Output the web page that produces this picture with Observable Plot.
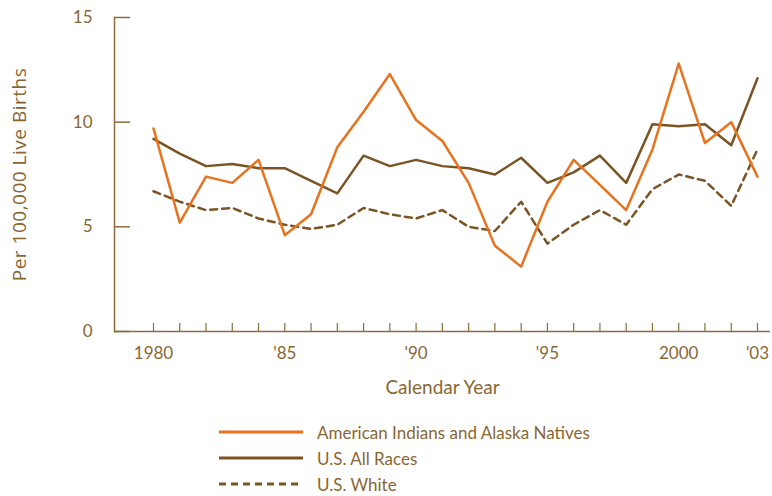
<!DOCTYPE html>
<html>
<head>
<meta charset="utf-8">
<script src="https://cdn.jsdelivr.net/npm/d3@7"></script>
<script src="https://cdn.jsdelivr.net/npm/@observablehq/plot@0.6"></script>
<style>
  html, body { margin: 0; padding: 0; background: #fff; }
  #chart { width: 772px; }
  .legend { margin-left: 219px; padding-top: 9px; font-family: Lato, sans-serif; font-size: 17px; color: #8a6632; }
  .legend .row { display: flex; align-items: center; height: 26px; }
  .legend svg { margin-right: 14px; }
</style>
</head>
<body>
<div id="chart"></div>
<script>
const years = [1980,1981,1982,1983,1984,1985,1986,1987,1988,1989,1990,1991,1992,1993,1994,1995,1996,1997,1998,1999,2000,2001,2002,2003];
const aian     = [9.7,5.2,7.4,7.1,8.2,4.6,5.6,8.8,10.5,12.3,10.1,9.1,7.1,4.1,3.1,6.2,8.2,7.0,5.8,8.7,12.8,9.0,10.0,7.4];
const allRaces = [9.2,8.5,7.9,8.0,7.8,7.8,7.2,6.6,8.4,7.9,8.2,7.9,7.8,7.5,8.3,7.1,7.6,8.4,7.1,9.9,9.8,9.9,8.9,12.1];
const white    = [6.7,6.2,5.8,5.9,5.4,5.1,4.9,5.1,5.9,5.6,5.4,5.8,5.0,4.8,6.2,4.2,5.1,5.8,5.1,6.8,7.5,7.2,6.0,8.7];
const xTicks = [1980,1985,1990,1995,2000,2003];
const xTickLabels = ["1980","'85","'90","'95","2000","'03"];
const yTicks = [0,5,10,15];
const seriesNames = ["American Indians and Alaska Natives","U.S. All Races","U.S. White"];

const orange = "#e8731e", brown = "#7b5424", axisColor = "#8c6b3d", textColor = "#8a6632";

const W = 772, H = 410, mL = 114, mR = 2, mT = 17, mB = 79;
const frameW = W - mL - mR, frameH = H - mT - mB;

const rows = (vals) => years.map((y, i) => ({year: y, value: vals[i]}));

const plot = Plot.plot({
  width: W, height: H,
  marginLeft: mL, marginRight: mR, marginTop: mT, marginBottom: mB,
  style: {fontFamily: "Lato, sans-serif", fontSize: "17px", color: textColor, background: "#fff", overflow: "visible"},
  x: {domain: [1980, 2003], range: [153, 757]},
  y: {domain: [0, 15]},
  marks: [
    Plot.frame({anchor: "left", stroke: axisColor, strokeWidth: 1.5}),
    Plot.ruleY([0], {stroke: axisColor, strokeWidth: 1.5}),
    Plot.tickY(yTicks, {y: d => d, stroke: axisColor, strokeWidth: 1.5, insetRight: frameW - 16}),
    Plot.tickX(years, {x: d => d, stroke: axisColor, strokeWidth: 1.2, insetTop: frameH - 8}),
    Plot.axisY({ticks: yTicks, tickSize: 0, tickPadding: 22, label: null, fill: textColor}),
    Plot.axisY({ticks: [], tickSize: 0, label: "Per 100,000 Live Births", labelAnchor: "center", labelArrow: "none", labelOffset: 102, fontSize: 19, fontFamily: "Open Sans, sans-serif", fill: textColor}),
    Plot.axisX({ticks: xTicks, tickSize: 0, tickPadding: 15, tickFormat: d => xTickLabels[xTicks.indexOf(d)], label: null, fill: textColor}),
    Plot.axisX({ticks: [], tickSize: 0, label: "Calendar Year", labelAnchor: "center", labelArrow: "none", labelOffset: 62, fontSize: 19, fill: textColor}),
    Plot.line(rows(white), {x: "year", y: "value", stroke: brown, strokeWidth: 2.5, strokeDasharray: "7,5"}),
    Plot.line(rows(allRaces), {x: "year", y: "value", stroke: brown, strokeWidth: 2.5}),
    Plot.line(rows(aian), {x: "year", y: "value", stroke: orange, strokeWidth: 2.5})
  ]
});
d3.select(plot).selectAll("[aria-label='y-axis label'] text, [aria-label='y-axis label']").style("letter-spacing", "0.5px");
const chart = document.getElementById("chart");
chart.appendChild(plot);

const legend = document.createElement("div");
legend.className = "legend";
const styles = [
  {stroke: orange, dash: null},
  {stroke: brown, dash: null},
  {stroke: brown, dash: "7,5"}
];
seriesNames.forEach((name, i) => {
  const row = document.createElement("div");
  row.className = "row";
  const s = styles[i];
  row.innerHTML = `<svg width="84" height="10"><line x1="0" x2="84" y1="5" y2="5" stroke="${s.stroke}" stroke-width="3"${s.dash ? ` stroke-dasharray="${s.dash}"` : ""}/></svg><span>${name}</span>`;
  legend.appendChild(row);
});
chart.appendChild(legend);
</script>
</body>
</html>
